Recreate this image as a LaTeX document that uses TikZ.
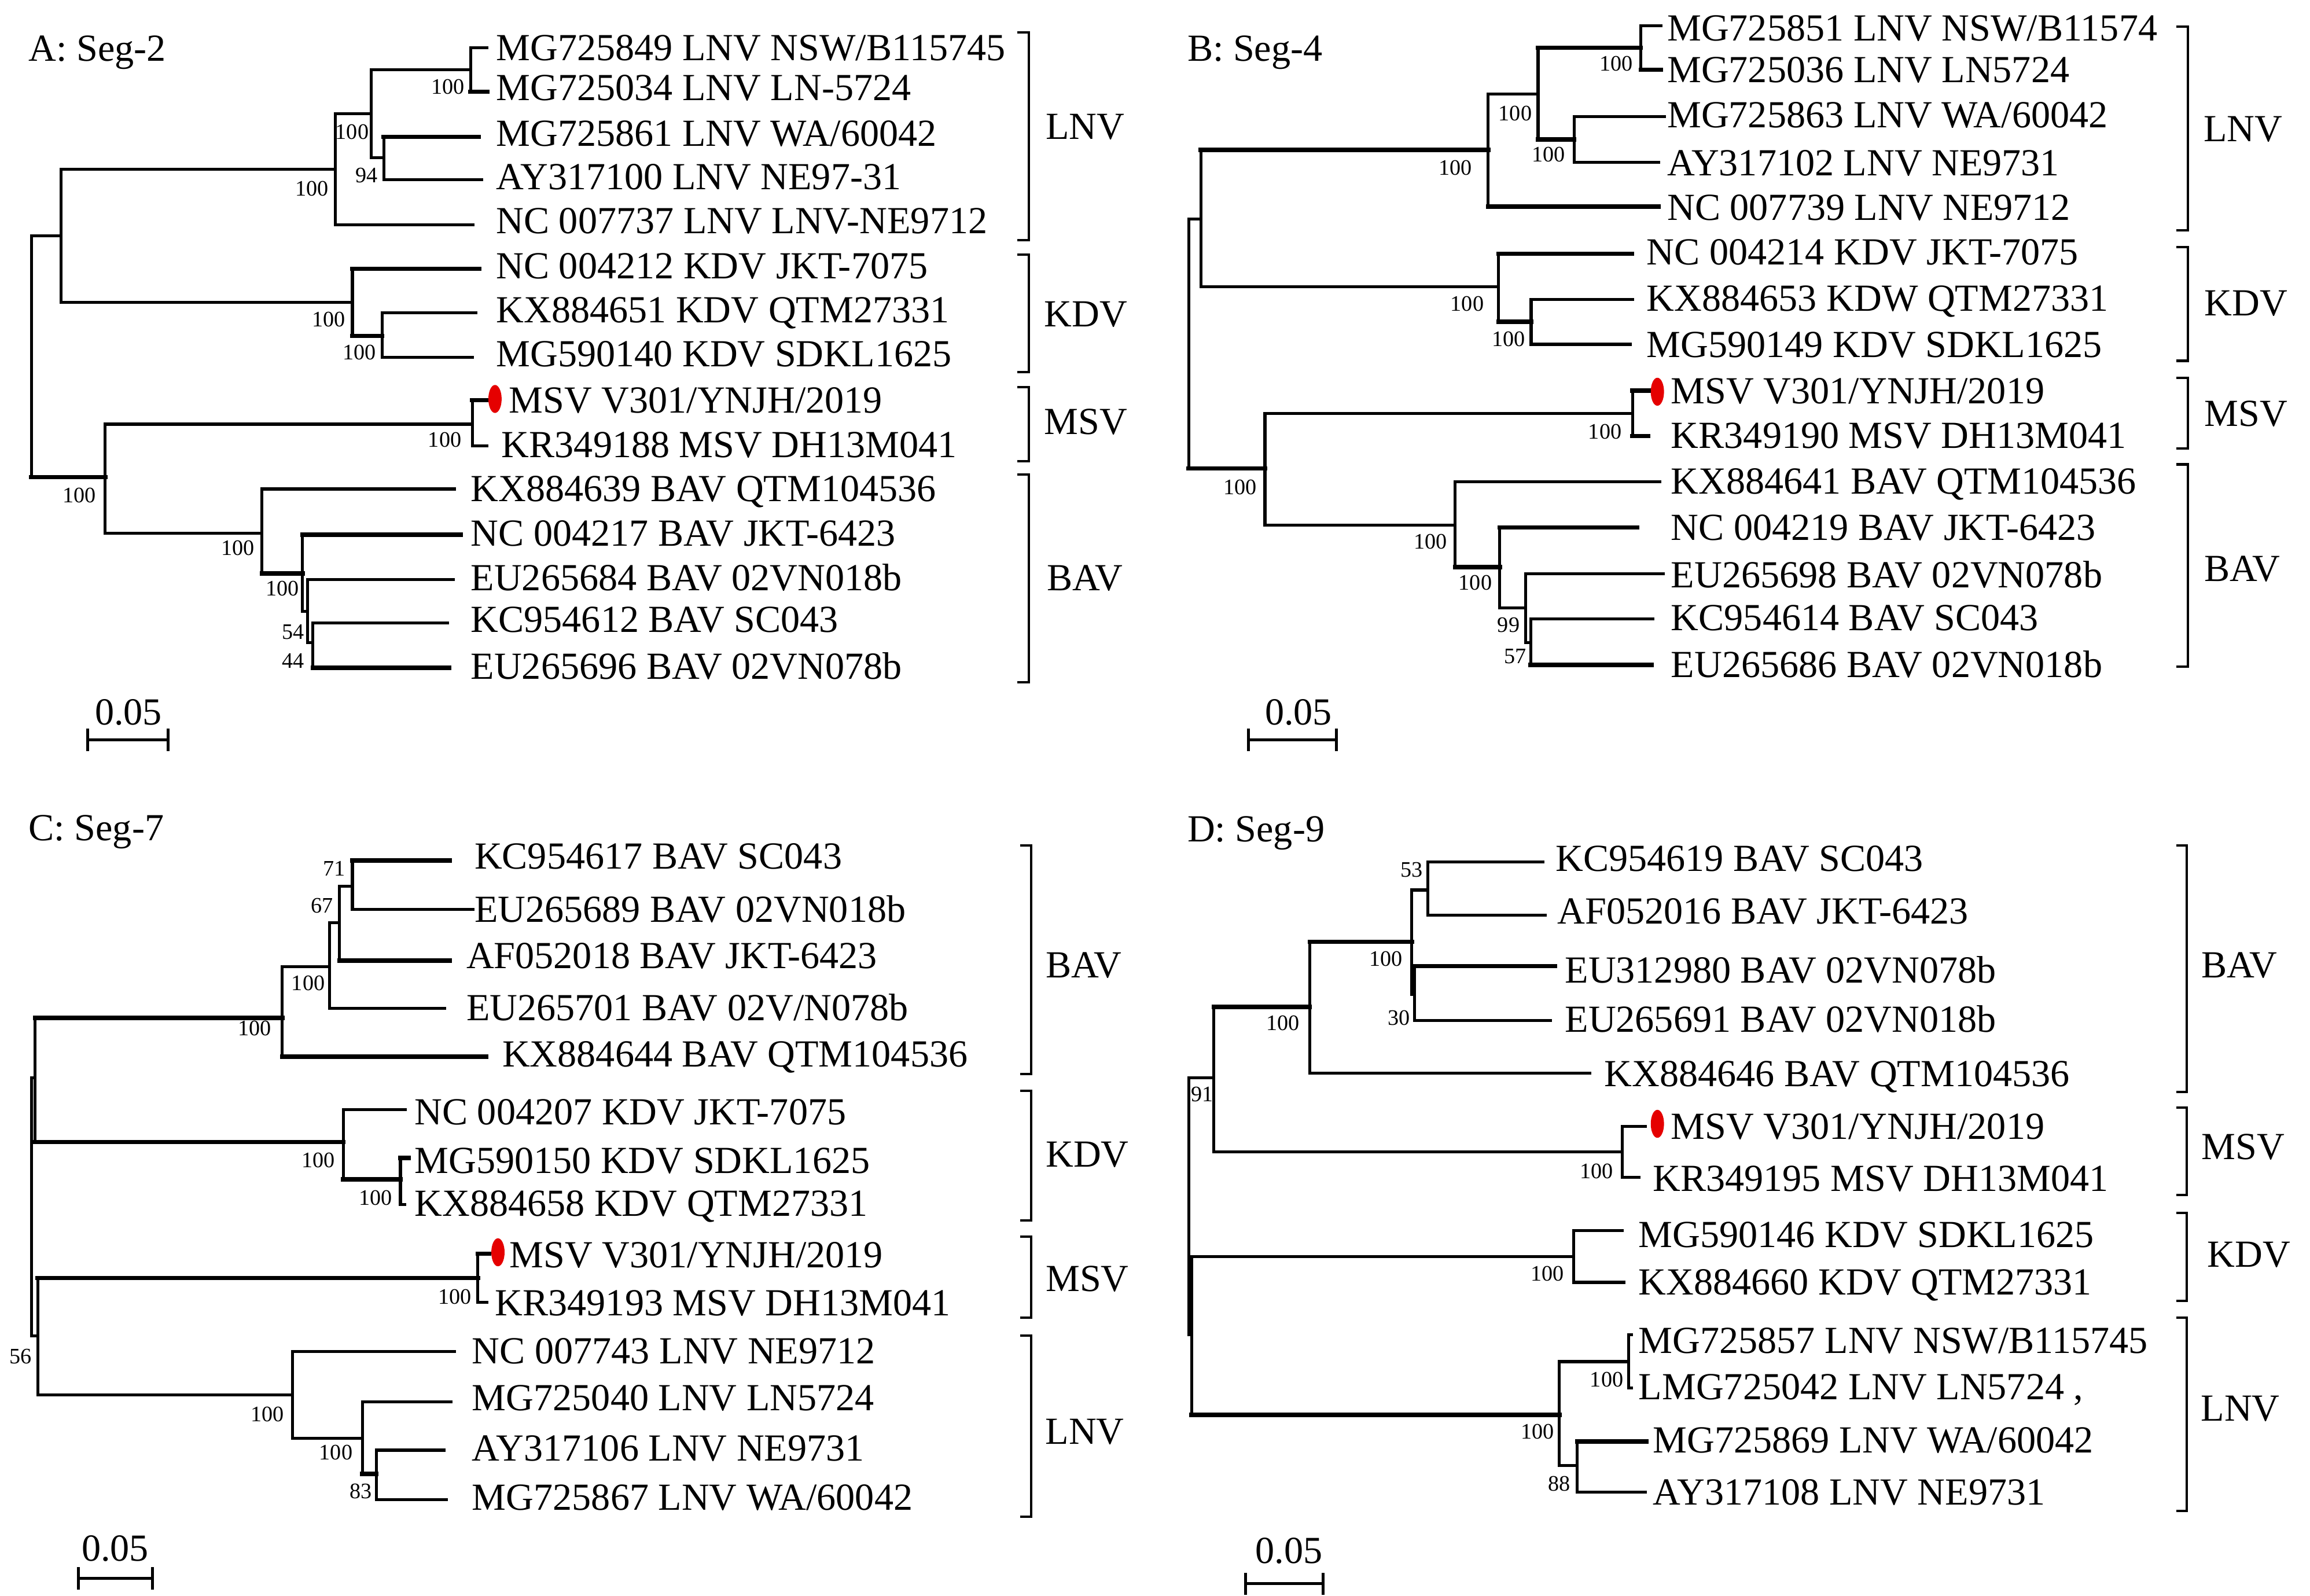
\documentclass[tikz,border=0pt]{standalone}
\usepackage{fontspec}
\setmainfont{Liberation Serif}
\usetikzlibrary{shapes.geometric}
\newcommand\labfont{\fontsize{26}{30}\selectfont}
\newcommand\bsfont{\fontsize{15}{18}\selectfont}
\newcommand\mkleaf[4]{\node[lab] (#1) at (#2,#3) {#4};}
\newcommand\mkbs[4]{\node[bs] (#1) at (#2,#3) {#4};}
\newcommand\tn[2]{\draw[br] (#1) |- (#2);}
\newcommand\tk[2]{\draw[br] (#1) |- (#2); \draw[br,tb] (#1 |- #2) -- (#2);}
\tikzset{
  br/.style={line width=2pt, line join=miter, line cap=rect},
  tb/.style={line width=3pt},
  lab/.style={anchor=west, inner sep=0pt, outer sep=0pt, font=\labfont, text height=17.2pt, text depth=0pt},
  bs/.style={anchor=center, inner sep=0pt, outer sep=0pt, font=\bsfont, text height=10pt, text depth=0pt},
  grp/.style={anchor=center, inner sep=0pt, outer sep=0pt, font=\labfont, text height=17.2pt, text depth=0pt},
  ttl/.style={anchor=west, inner sep=0pt, outer sep=0pt, font=\labfont, text height=17.2pt, text depth=0pt},
  brk/.style={line width=1.6pt, line join=miter},
  rdot/.style={ellipse, fill=red!90!black, draw=none, minimum width=9pt, minimum height=19pt, inner sep=0pt},
}
\begin{document}
\begin{tikzpicture}[x=1pt,y=-1pt]
\fill[white] (0,0) rectangle (1568,1083);
\useasboundingbox (0,0) rectangle (1568,1083);

% ================= Panel A =================
\node[ttl] (tA) at (19.5,33) {A: Seg-2};
\coordinate (rA) at (21.3,242);
\coordinate (a1) at (41.3,160);
\coordinate (a2) at (227.5,114.9);
\coordinate (a3) at (251.8,77.2);
\coordinate (a4) at (319.4,47.3);
\coordinate (a5) at (260.5,107);
\coordinate (a6) at (239.2,205.2);
\coordinate (a7) at (259.3,228);
\coordinate (a8) at (71.4,323.8);
\coordinate (a9) at (320.6,287.9);
\coordinate (a10) at (177.9,362);
\coordinate (a11) at (205.4,389.3);
\coordinate (a12) at (208.7,415);
\coordinate (a13) at (212.4,436.2);
\coordinate (lA1) at (330.7,32.4);
\coordinate (lA2) at (330.7,62.2);
\coordinate (lA3) at (325,92.9);
\coordinate (lA4) at (327,121.9);
\coordinate (lA5) at (321,152.5);
\coordinate (lA6) at (325.2,182.4);
\coordinate (lA7) at (323,212.2);
\coordinate (lA8) at (320.6,242.5);
\coordinate (lA9) at (331,271.6);
\coordinate (lA10) at (330.7,302.6);
\coordinate (lA11) at (308.6,331.9);
\coordinate (lA12) at (312.6,362.9);
\coordinate (lA13) at (307.6,393.5);
\coordinate (lA14) at (303.9,422.8);
\coordinate (lA15) at (304.9,453.3);
\tn{rA}{a1} \tk{rA}{a8}
\tn{a1}{a2} \tn{a1}{a6}
\tn{a2}{a3} \tn{a2}{lA5}
\tn{a3}{a4} \tn{a3}{a5}
\tn{a4}{lA1} \tk{a4}{lA2}
\tk{a5}{lA3} \tn{a5}{lA4}
\tk{a6}{lA6} \tk{a6}{a7}
\tn{a7}{lA7} \tn{a7}{lA8}
\tn{a8}{a9} \tn{a8}{a10}
\tk{a9}{lA9} \tn{a9}{lA10}
\tn{a10}{lA11} \tk{a10}{a11}
\tk{a11}{lA12} \tn{a11}{a12}
\tn{a12}{lA13} \tn{a12}{a13}
\tn{a13}{lA14} \tk{a13}{lA15}
\node[rdot] (dA) at (336,270.8) {};
\mkleaf{tA1}{336.8}{32.4}{MG725849 LNV NSW/B115745}
\mkleaf{tA2}{336.8}{59.5}{MG725034 LNV LN-5724}
\mkleaf{tA3}{336.8}{90.4}{MG725861 LNV WA/60042}
\mkleaf{tA4}{336.8}{120.2}{AY317100 LNV NE97-31}
\mkleaf{tA5}{336.8}{150}{NC 007737 LNV LNV-NE9712}
\mkleaf{tA6}{336.8}{180.5}{NC 004212 KDV JKT-7075}
\mkleaf{tA7}{336.8}{210.3}{KX884651 KDV QTM27331}
\mkleaf{tA8}{336.8}{240.2}{MG590140 KDV SDKL1625}
\mkleaf{tA9}{345.5}{271.6}{MSV V301/YNJH/2019}
\mkleaf{tA10}{340.5}{301.7}{KR349188 MSV DH13M041}
\mkleaf{tA11}{319.6}{331.9}{KX884639 BAV QTM104536}
\mkleaf{tA12}{319.6}{362}{NC 004217 BAV JKT-6423}
\mkleaf{tA13}{319.6}{392.2}{EU265684 BAV 02VN018b}
\mkleaf{tA14}{319.6}{420.5}{KC954612 BAV SC043}
\mkleaf{tA15}{319.6}{452.5}{EU265696 BAV 02VN078b}
\mkbs{bA1}{304}{58.7}{100}
\mkbs{bA2}{239}{89.4}{100}
\mkbs{bA3}{249}{119}{94}
\mkbs{bA4}{211.7}{128}{100}
\mkbs{bA5}{223}{216.6}{100}
\mkbs{bA6}{244}{239.3}{100}
\mkbs{bA7}{301.9}{298.5}{100}
\mkbs{bA8}{53.9}{336}{100}
\mkbs{bA9}{161.6}{371.8}{100}
\mkbs{bA10}{191.6}{399.5}{100}
\mkbs{bA11}{199}{428.9}{54}
\mkbs{bA12}{199}{448.4}{44}
% brackets A
\draw[brk] (690.5,21.9) -- (698.3,21.9) -- (698.3,163) -- (690.5,163);
\draw[brk] (690.5,172.7) -- (698.3,172.7) -- (698.3,252.5) -- (690.5,252.5);
\draw[brk] (690.5,262.6) -- (698.3,262.6) -- (698.3,313.1) -- (690.5,313.1);
\draw[brk] (690.5,322.1) -- (698.3,322.1) -- (698.3,463) -- (690.5,463);
\node[grp] (gA1) at (736.5,86) {LNV};
\node[grp] (gA2) at (737,213) {KDV};
\node[grp] (gA3) at (737,286.3) {MSV};
\node[grp] (gA4) at (736.5,392.2) {BAV};
% scale A
\coordinate (sA1) at (59.6,502.2);
\coordinate (sA2) at (114,502.2);
\draw[br] (sA1) -- (sA2);
\draw[br] (sA1) ++(0,-6.5) -- ++(0,13);
\draw[br] (sA2) ++(0,-6.5) -- ++(0,13);
\node[grp] (scA) at (87.2,483.5) {0.05};

% ================= Panel B =================
\node[ttl] (tB) at (806,33) {B: Seg-4};
\coordinate (rB) at (806.8,233);
\coordinate (b1) at (815.1,148.7);
\coordinate (b2) at (1010.2,101.7);
\coordinate (b3) at (1044,64);
\coordinate (b4) at (1113.7,32.4);
\coordinate (b5) at (1068.6,94.7);
\coordinate (b6) at (1017.2,194.6);
\coordinate (b7) at (1039.3,218.3);
\coordinate (b8) at (858.6,318);
\coordinate (b9) at (1108.1,280.6);
\coordinate (b10) at (987.7,356.3);
\coordinate (b11) at (1018,384.9);
\coordinate (b12) at (1035.5,412.6);
\coordinate (b13) at (1039,436.2);
\coordinate (lB1) at (1127.4,17.5);
\coordinate (lB2) at (1127.4,47.3);
\coordinate (lB3) at (1130,79.3);
\coordinate (lB4) at (1125.7,110.1);
\coordinate (lB5) at (1125.7,140.3);
\coordinate (lB6) at (1107.9,172.2);
\coordinate (lB7) at (1108.1,203.4);
\coordinate (lB8) at (1106.6,233.7);
\coordinate (lB9) at (1119,265.1);
\coordinate (lB10) at (1118.7,296);
\coordinate (lB11) at (1126.7,327);
\coordinate (lB12) at (1111.1,358);
\coordinate (lB13) at (1129.2,389.3);
\coordinate (lB14) at (1121.9,420.2);
\coordinate (lB15) at (1121.2,451.2);
\tn{rB}{b1} \tk{rB}{b8}
\tk{b1}{b2} \tn{b1}{b6}
\tn{b2}{b3} \tk{b2}{lB5}
\tk{b3}{b4} \tk{b3}{b5}
\tn{b4}{lB1} \tk{b4}{lB2}
\tn{b5}{lB3} \tn{b5}{lB4}
\tk{b6}{lB6} \tk{b6}{b7}
\tn{b7}{lB7} \tn{b7}{lB8}
\tn{b8}{b9} \tn{b8}{b10}
\tk{b9}{lB9} \tk{b9}{lB10}
\tn{b10}{lB11} \tk{b10}{b11}
\tk{b11}{lB12} \tn{b11}{b12}
\tn{b12}{lB13} \tn{b12}{b13}
\tn{b13}{lB14} \tk{b13}{lB15}
\node[rdot] (dB) at (1125,265.9) {};
\mkleaf{tB1}{1131.7}{18.9}{MG725851 LNV NSW/B11574}
\mkleaf{tB2}{1131.7}{47.2}{MG725036 LNV LN5724}
\mkleaf{tB3}{1131.7}{78.2}{MG725863 LNV WA/60042}
\mkleaf{tB4}{1131.7}{110.7}{AY317102 LNV NE9731}
\mkleaf{tB5}{1131.7}{140.7}{NC 007739 LNV NE9712}
\mkleaf{tB6}{1117.8}{171}{NC 004214 KDV JKT-7075}
\mkleaf{tB7}{1117.8}{202.5}{KX884653 KDW QTM27331}
\mkleaf{tB8}{1117.8}{233.8}{MG590149 KDV SDKL1625}
\mkleaf{tB9}{1134.3}{265.4}{MSV V301/YNJH/2019}
\mkleaf{tB10}{1134.3}{295.7}{KR349190 MSV DH13M041}
\mkleaf{tB11}{1134.3}{326.6}{KX884641 BAV QTM104536}
\mkleaf{tB12}{1134.3}{358.2}{NC 004219 BAV JKT-6423}
\mkleaf{tB13}{1134.3}{390.1}{EU265698 BAV 02VN078b}
\mkleaf{tB14}{1134.3}{419.4}{KC954614 BAV SC043}
\mkleaf{tB15}{1134.3}{451}{EU265686 BAV 02VN018b}
\mkbs{bB1}{1096.9}{43}{100}
\mkbs{bB2}{1028.5}{76.8}{100}
\mkbs{bB3}{1051}{104.9}{100}
\mkbs{bB4}{987.9}{114}{100}
\mkbs{bB5}{995.9}{206}{100}
\mkbs{bB6}{1024}{230.2}{100}
\mkbs{bB7}{1089.4}{292.8}{100}
\mkbs{bB8}{841.9}{330.6}{100}
\mkbs{bB9}{970.9}{367.7}{100}
\mkbs{bB10}{1001.4}{395.5}{100}
\mkbs{bB11}{1024}{424}{99}
\mkbs{bB12}{1028.5}{445.2}{57}
\draw[brk] (1477.3,17.9) -- (1485.1,17.9) -- (1485.1,156.3) -- (1477.3,156.3);
\draw[brk] (1477.3,167.7) -- (1485.1,167.7) -- (1485.1,244.9) -- (1477.3,244.9);
\draw[brk] (1477.3,256.6) -- (1485.1,256.6) -- (1485.1,304.5) -- (1477.3,304.5);
\draw[brk] (1477.3,315.2) -- (1485.1,315.2) -- (1485.1,452.6) -- (1477.3,452.6);
\node[grp] (gB1) at (1522.5,87.3) {LNV};
\node[grp] (gB2) at (1524.5,205.8) {KDV};
\node[grp] (gB3) at (1524.5,280.7) {MSV};
\node[grp] (gB4) at (1522,385.9) {BAV};
\coordinate (sB1) at (847.4,502.2);
\coordinate (sB2) at (907,502.2);
\draw[br] (sB1) -- (sB2);
\draw[br] (sB1) ++(0,-6.5) -- ++(0,13);
\draw[br] (sB2) ++(0,-6.5) -- ++(0,13);
\node[grp] (scB) at (881.4,483.5) {0.05};

% ================= Panel C =================
\node[ttl] (tC) at (19.5,562) {C: Seg-7};
\coordinate (rC) at (21.3,820);
\coordinate (c1) at (23.8,731.4);
\coordinate (c2) at (191.6,691);
\coordinate (c3) at (223.7,656);
\coordinate (c4) at (230.5,626.2);
\coordinate (c5) at (239.2,601.6);
\coordinate (c6) at (233,775.2);
\coordinate (c7) at (271.8,800.6);
\coordinate (c8) at (25.6,906.9);
\coordinate (c9) at (324.4,867.4);
\coordinate (c10) at (198.6,946.7);
\coordinate (c11) at (246,976.1);
\coordinate (c12) at (255.5,1000.4);
\coordinate (lC1) at (305.1,584.1);
\coordinate (lC2) at (321,617.4);
\coordinate (lC3) at (305.1,652);
\coordinate (lC4) at (301.9,684.4);
\coordinate (lC5) at (330.2,717.3);
\coordinate (lC6) at (275,753);
\coordinate (lC7) at (277.5,786);
\coordinate (lC8) at (274.8,817.7);
\coordinate (lC9) at (332,850.9);
\coordinate (lC10) at (330.7,884.1);
\coordinate (lC11) at (308.6,917.3);
\coordinate (lC12) at (306.1,951.4);
\coordinate (lC13) at (301.4,984.3);
\coordinate (lC14) at (303.1,1017.8);
\tn{rC}{c1} \tn{rC}{c8}
\tk{c1}{c2} \tk{c1}{c6}
\tn{c2}{c3} \tk{c2}{lC5}
\tn{c3}{c4} \tn{c3}{lC4}
\tn{c4}{c5} \tk{c4}{lC3}
\tk{c5}{lC1} \tn{c5}{lC2}
\tn{c6}{lC6} \tk{c6}{c7}
\tk{c7}{lC7} \tn{c7}{lC8}
\tk{c8}{c9} \tn{c8}{c10}
\tk{c9}{lC9} \tn{c9}{lC10}
\tn{c10}{lC11} \tn{c10}{c11}
\tn{c11}{lC12} \tk{c11}{c12}
\tn{c12}{lC13} \tn{c12}{lC14}
\node[rdot] (dC) at (338,850) {};
\mkleaf{tC1}{322.1}{581}{KC954617 BAV SC043}
\mkleaf{tC2}{322.1}{617.2}{EU265689 BAV 02VN018b}
\mkleaf{tC3}{316.6}{648.9}{AF052018 BAV JKT-6423}
\mkleaf{tC4}{316.6}{684.1}{EU265701 BAV 02V/N078b}
\mkleaf{tC5}{341}{715.5}{KX884644 BAV QTM104536}
\mkleaf{tC6}{281.4}{754.8}{NC 004207 KDV JKT-7075}
\mkleaf{tC7}{281.4}{787.6}{MG590150 KDV SDKL1625}
\mkleaf{tC8}{281.4}{816.9}{KX884658 KDV QTM27331}
\mkleaf{tC9}{345.9}{851.8}{MSV V301/YNJH/2019}
\mkleaf{tC10}{336.1}{884.5}{KR349193 MSV DH13M041}
\mkleaf{tC11}{320.5}{917}{NC 007743 LNV NE9712}
\mkleaf{tC12}{320.5}{949}{MG725040 LNV LN5724}
\mkleaf{tC13}{320.5}{982.8}{AY317106 LNV NE9731}
\mkleaf{tC14}{320.5}{1016.3}{MG725867 LNV WA/60042}
\mkbs{bC1}{226.7}{589.3}{71}
\mkbs{bC2}{218.7}{614.8}{67}
\mkbs{bC3}{209.2}{667.4}{100}
\mkbs{bC4}{172.8}{698}{100}
\mkbs{bC5}{215.9}{787.5}{100}
\mkbs{bC6}{254.8}{813}{100}
\mkbs{bC7}{308.6}{880.3}{100}
\mkbs{bC8}{13.8}{920.5}{56}
\mkbs{bC9}{181.6}{960}{100}
\mkbs{bC10}{228}{985.6}{100}
\mkbs{bC11}{245}{1012.1}{83}
\draw[brk] (692.3,573.7) -- (699.9,573.7) -- (699.9,729) -- (692.3,729);
\draw[brk] (692.3,740.3) -- (699.9,740.3) -- (699.9,828.3) -- (692.3,828.3);
\draw[brk] (692.3,839.3) -- (699.9,839.3) -- (699.9,894.5) -- (692.3,894.5);
\draw[brk] (692.3,906.6) -- (699.9,906.6) -- (699.9,1029.4) -- (692.3,1029.4);
\node[grp] (gC1) at (735.6,655.1) {BAV};
\node[grp] (gC2) at (738,783.5) {KDV};
\node[grp] (gC3) at (738,868) {MSV};
\node[grp] (gC4) at (736.3,971.5) {LNV};
\coordinate (sC1) at (53.1,1071.3);
\coordinate (sC2) at (103.5,1071.3);
\draw[br] (sC1) -- (sC2);
\draw[br] (sC1) ++(0,-6.5) -- ++(0,13);
\draw[br] (sC2) ++(0,-6.5) -- ++(0,13);
\node[grp] (scC) at (78.2,1051) {0.05};

% ================= Panel D =================
\node[ttl] (tD) at (806,562.7) {D: Seg-9};
\coordinate (rD) at (806.8,820);
\coordinate (d1) at (823.8,731.7);
\coordinate (d2) at (889,683.4);
\coordinate (d3) at (958.3,639.3);
\coordinate (d4) at (969.1,604.1);
\coordinate (d5) at (960,674.8);
\coordinate (d6) at (1101.1,781.7);
\coordinate (d7) at (808.8,905.9);
\coordinate (d8) at (1068.1,853.1);
\coordinate (d9) at (1058.5,960.4);
\coordinate (d10) at (1105.6,924.2);
\coordinate (d11) at (1070.6,994.6);
\coordinate (lD1) at (1047.3,585.1);
\coordinate (lD2) at (1049,621.3);
\coordinate (lD3) at (1055.5,655.8);
\coordinate (lD4) at (1052.3,692.7);
\coordinate (lD5) at (1079.3,728.3);
\coordinate (lD6) at (1117,764.5);
\coordinate (lD7) at (1112.4,799);
\coordinate (lD8) at (1101.1,835.2);
\coordinate (lD9) at (1102.4,870.4);
\coordinate (lD10) at (1107.5,906);
\coordinate (lD11) at (1107.5,942);
\coordinate (lD12) at (1117.4,978.4);
\coordinate (lD13) at (1116.7,1012.9);
\tn{rD}{d1} \tn{rD}{d7}
\tk{d1}{d2} \tn{d1}{d6}
\tk{d2}{d3} \tn{d2}{lD5}
\tn{d3}{d4} \tn{d3}{d5}
\tn{d4}{lD1} \tn{d4}{lD2}
\tk{d5}{lD3} \tn{d5}{lD4}
\tn{d6}{lD6} \tn{d6}{lD7}
\tn{d7}{d8} \tk{d7}{d9}
\tn{d8}{lD8} \tn{d8}{lD9}
\tn{d9}{d10} \tn{d9}{d11}
\tn{d10}{lD10} \tn{d10}{lD11}
\tk{d11}{lD12} \tn{d11}{lD13}
\node[rdot] (dD) at (1125,762.8) {};
\mkleaf{tD1}{1056}{582.7}{KC954619 BAV SC043}
\mkleaf{tD2}{1057.3}{618.6}{AF052016 BAV JKT-6423}
\mkleaf{tD3}{1062.3}{658.6}{EU312980 BAV 02VN078b}
\mkleaf{tD4}{1062.3}{692}{EU265691 BAV 02VN018b}
\mkleaf{tD5}{1089}{729}{KX884646 BAV QTM104536}
\mkleaf{tD6}{1134.3}{764.5}{MSV V301/YNJH/2019}
\mkleaf{tD7}{1122}{800}{KR349195 MSV DH13M041}
\mkleaf{tD8}{1112.3}{838}{MG590146 KDV SDKL1625}
\mkleaf{tD9}{1112.3}{870.4}{KX884660 KDV QTM27331}
\mkleaf{tD10}{1112.3}{910}{MG725857 LNV NSW/B115745}
\mkleaf{tD11}{1112.3}{941.5}{LMG725042 LNV LN5724 ,}
\mkleaf{tD12}{1122}{977.3}{MG725869 LNV WA/60042}
\mkleaf{tD13}{1122}{1012.9}{AY317108 LNV NE9731}
\mkbs{bD1}{958.3}{590.3}{53}
\mkbs{bD2}{940.8}{650.7}{100}
\mkbs{bD3}{949.6}{691}{30}
\mkbs{bD4}{870.7}{694.5}{100}
\mkbs{bD5}{816}{742.8}{91}
\mkbs{bD6}{1083.6}{794.8}{100}
\mkbs{bD7}{1050.3}{864.5}{100}
\mkbs{bD8}{1090.6}{936.3}{100}
\mkbs{bD9}{1043.5}{971.5}{100}
\mkbs{bD10}{1058.5}{1007}{88}
\draw[brk] (1477.3,573.7) -- (1484.4,573.7) -- (1484.4,741) -- (1477.3,741);
\draw[brk] (1477.3,751.7) -- (1484.4,751.7) -- (1484.4,811.1) -- (1477.3,811.1);
\draw[brk] (1477.3,823.1) -- (1484.4,823.1) -- (1484.4,882.8) -- (1477.3,882.8);
\draw[brk] (1477.3,894.5) -- (1484.4,894.5) -- (1484.4,1025.6) -- (1477.3,1025.6);
\node[grp] (gD1) at (1520,655.1) {BAV};
\node[grp] (gD2) at (1522.6,778.3) {MSV};
\node[grp] (gD3) at (1526.5,851.4) {KDV};
\node[grp] (gD4) at (1520.7,956) {LNV};
\coordinate (sD1) at (845.6,1075);
\coordinate (sD2) at (898.2,1075);
\draw[br] (sD1) -- (sD2);
\draw[br] (sD1) ++(0,-6.5) -- ++(0,13);
\draw[br] (sD2) ++(0,-6.5) -- ++(0,13);
\node[grp] (scD) at (874.9,1052.5) {0.05};
\end{tikzpicture}
\end{document}
